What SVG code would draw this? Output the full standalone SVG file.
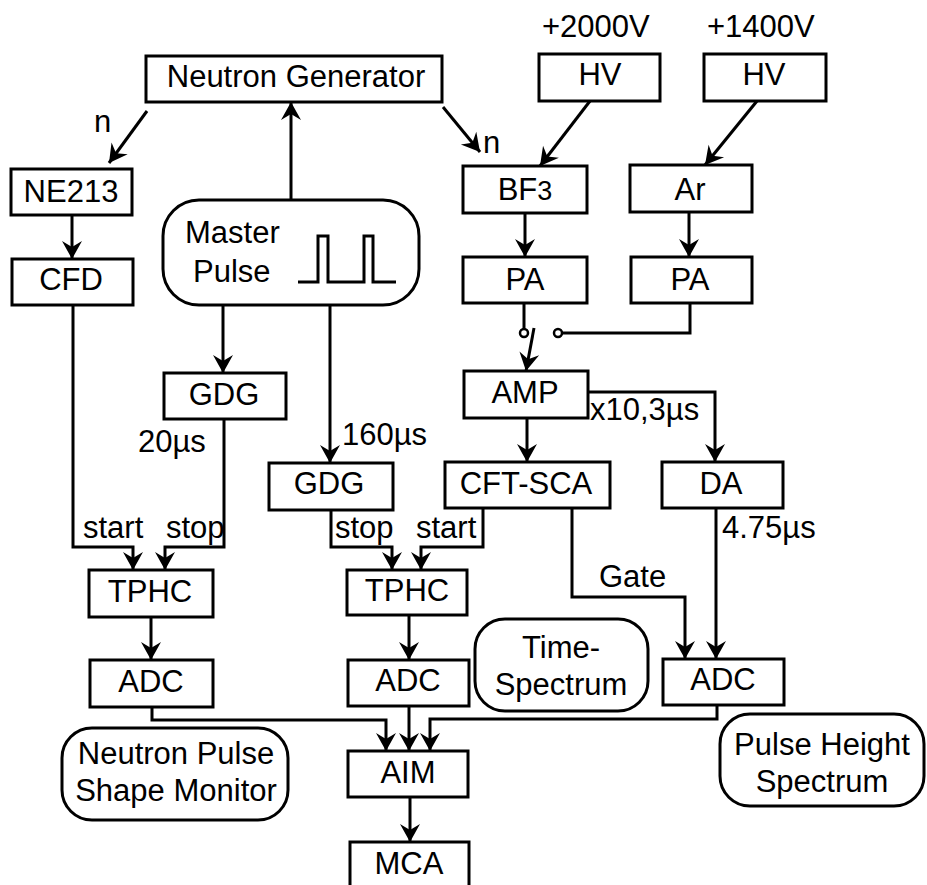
<svg xmlns="http://www.w3.org/2000/svg" width="927" height="885" viewBox="0 0 927 885">
<defs>
<style>
.box{fill:#fff;stroke:#000;stroke-width:3}
.rbox{fill:#fff;stroke:#000;stroke-width:3}
.t{font-family:"Liberation Sans",Arial,sans-serif;font-size:31px;fill:#000}
.c{text-anchor:middle}
.ln{fill:none;stroke:#000;stroke-width:3}
.ar{fill:none;stroke:#000;stroke-width:3;marker-end:url(#ah)}
</style>
<marker id="ah" markerUnits="userSpaceOnUse" markerWidth="30" markerHeight="30" viewBox="-20 -15 30 30" refX="0" refY="0" orient="auto" overflow="visible">
<path d="M0,0 L-18,-10 L-12,0 L-18,10 Z" fill="#000"/>
</marker>
</defs>
<rect width="927" height="885" fill="#fff"/>

<g id="connectors">
<line class="ar" x1="147" y1="111" x2="109" y2="163"/>
<line class="ar" x1="72" y1="215" x2="72" y2="259"/>
<line class="ar" x1="291" y1="200" x2="291" y2="102"/>
<line class="ar" x1="443" y1="107" x2="480" y2="152"/>
<line class="ar" x1="590" y1="101" x2="540" y2="166"/>
<line class="ar" x1="757" y1="101" x2="705" y2="165"/>
<line class="ar" x1="525" y1="213" x2="525" y2="257"/>
<line class="ar" x1="689" y1="212" x2="689" y2="257"/>
<line class="ln" x1="524" y1="303" x2="524" y2="329"/>
<circle cx="524" cy="333" r="4" fill="#fff" stroke="#000" stroke-width="2.5"/>
<circle cx="558" cy="333" r="4" fill="#fff" stroke="#000" stroke-width="2.5"/>
<polyline class="ln" points="562,333 690,333 690,303"/>
<line class="ar" x1="534" y1="328" x2="526" y2="371"/>
<line class="ar" x1="527" y1="418" x2="527" y2="462"/>
<polyline class="ar" points="588,392 715,392 715,462"/>
<polyline class="ar" points="73,305 73,547 133,547 133,570"/>
<polyline class="ar" points="224,419 224,547 165,547 165,570"/>
<line class="ar" x1="223" y1="305" x2="223" y2="373"/>
<line class="ar" x1="330" y1="305" x2="330" y2="463"/>
<polyline class="ar" points="331,510 331,547 392,547 392,570"/>
<polyline class="ar" points="483,508 483,547 421,547 421,570"/>
<line class="ar" x1="151" y1="617" x2="151" y2="660"/>
<line class="ar" x1="409" y1="615" x2="409" y2="660"/>
<polyline class="ar" points="152,707 152,720 386,720 386,751"/>
<line class="ar" x1="409" y1="706" x2="409" y2="751"/>
<polyline class="ar" points="717,705 717,719 430,719 430,751"/>
<polyline class="ar" points="572,508 572,597 685,597 685,659"/>
<line class="ar" x1="716" y1="508" x2="716" y2="659"/>
<line class="ar" x1="410" y1="797" x2="410" y2="842"/>
<text class="t" x="94" y="132">n</text>
<text class="t" x="483" y="153">n</text>
<text class="t" x="138" y="452">20µs</text>
<text class="t" x="342" y="445">160µs</text>
<text class="t" x="590" y="420">x10,3µs</text>
<text class="t" x="722" y="538">4.75µs</text>
<text class="t" x="83" y="538">start</text>
<text class="t" x="166" y="538">stop</text>
<text class="t" x="335" y="538">stop</text>
<text class="t" x="416" y="538">start</text>
<text class="t" x="599" y="587">Gate</text>
</g>

<g id="neutron-generator"><rect class="box" x="146" y="56" width="296" height="46"/><text class="t c" x="296" y="87">Neutron Generator</text></g>
<g id="hv1"><text class="t" x="542" y="37">+2000V</text><rect class="box" x="539" y="54" width="121" height="47"/><text class="t c" x="600" y="85">HV</text></g>
<g id="hv2"><text class="t" x="707" y="37">+1400V</text><rect class="box" x="704" y="54" width="122" height="47"/><text class="t c" x="764" y="85">HV</text></g>
<g id="ne213"><rect class="box" x="11" y="169" width="121" height="46"/><text class="t c" x="71" y="202">NE213</text></g>
<g id="cfd"><rect class="box" x="12" y="259" width="121" height="46"/><text class="t c" x="71" y="290">CFD</text></g>
<g id="bf3"><rect class="box" x="463" y="166" width="124" height="47"/><text class="t c" x="525" y="200">BF<tspan font-size="27">3</tspan></text></g>
<g id="ar"><rect class="box" x="630" y="165" width="122" height="47"/><text class="t c" x="690" y="200">Ar</text></g>
<g id="pa1"><rect class="box" x="463" y="257" width="124" height="46"/><text class="t c" x="525" y="290">PA</text></g>
<g id="pa2"><rect class="box" x="631" y="257" width="121" height="46"/><text class="t c" x="690" y="290">PA</text></g>
<g id="master-pulse"><rect class="rbox" x="163" y="200" width="256" height="105" rx="36"/><text class="t" x="185" y="243">Master</text><text class="t" x="193" y="282">Pulse</text><polyline class="ln" stroke-width="2.5" points="298,282 318,282 318,236 328,236 328,282 364,282 364,236 373,236 373,282 396,282"/></g>
<g id="gdg1"><rect class="box" x="164" y="373" width="122" height="46"/><text class="t c" x="224" y="405">GDG</text></g>
<g id="gdg2"><rect class="box" x="269" y="463" width="124" height="47"/><text class="t c" x="329" y="494">GDG</text></g>
<g id="amp"><rect class="box" x="464" y="371" width="124" height="47"/><text class="t c" x="525" y="403">AMP</text></g>
<g id="cft-sca"><rect class="box" x="445" y="462" width="165" height="46"/><text class="t c" x="526" y="494">CFT-SCA</text></g>
<g id="da"><rect class="box" x="662" y="462" width="121" height="46"/><text class="t c" x="721" y="494">DA</text></g>
<g id="tphc1"><rect class="box" x="89" y="570" width="124" height="47"/><text class="t c" x="150" y="602">TPHC</text></g>
<g id="tphc2"><rect class="box" x="347" y="570" width="120" height="45"/><text class="t c" x="407" y="601">TPHC</text></g>
<g id="adc1"><rect class="box" x="90" y="660" width="123" height="47"/><text class="t c" x="151" y="692">ADC</text></g>
<g id="adc2"><rect class="box" x="348" y="660" width="121" height="46"/><text class="t c" x="408" y="691">ADC</text></g>
<g id="adc3"><rect class="box" x="663" y="659" width="121" height="46"/><text class="t c" x="723" y="690">ADC</text></g>
<g id="aim"><rect class="box" x="348" y="751" width="120" height="46"/><text class="t c" x="408" y="783">AIM</text></g>
<g id="mca"><rect class="box" x="350" y="842" width="119" height="60"/><text class="t c" x="409" y="874">MCA</text></g>
<g id="npsm"><rect class="rbox" x="62" y="728" width="226" height="92" rx="30"/><text class="t c" x="176" y="764">Neutron Pulse</text><text class="t c" x="176" y="801">Shape Monitor</text></g>
<g id="time-spectrum"><rect class="rbox" x="475" y="619" width="173" height="92" rx="30"/><text class="t c" x="561" y="658">Time-</text><text class="t c" x="561" y="695">Spectrum</text></g>
<g id="phs"><rect class="rbox" x="720" y="714" width="204" height="92" rx="30"/><text class="t c" x="822" y="755">Pulse Height</text><text class="t c" x="822" y="792">Spectrum</text></g>
</svg>
